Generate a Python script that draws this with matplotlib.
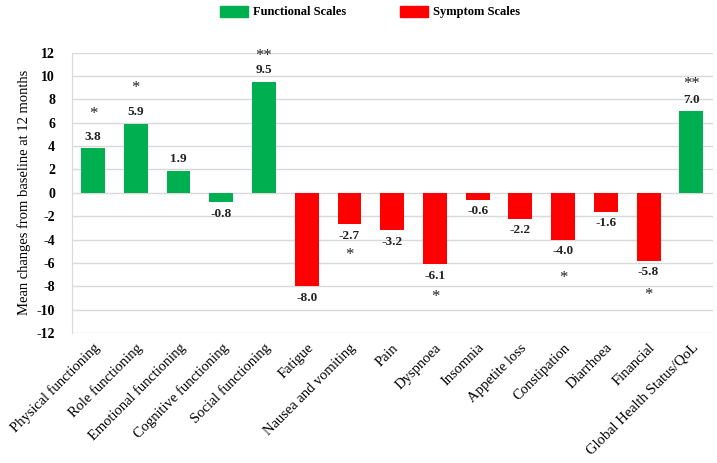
import matplotlib.pyplot as plt
from matplotlib.patches import Patch

categories = [
    "Physical functioning", "Role functioning", "Emotional functioning",
    "Cognitive functioning", "Social functioning", "Fatigue",
    "Nausea and vomiting", "Pain", "Dyspnoea", "Insomnia", "Appetite loss",
    "Constipation", "Diarrhoea", "Financial", "Global Health Status/QoL",
]
values = [3.8, 5.9, 1.9, -0.8, 9.5, -8.0, -2.7, -3.2, -6.1, -0.6, -2.2, -4.0, -1.6, -5.8, 7.0]
is_functional = [True, True, True, True, True, False, False, False, False,
                 False, False, False, False, False, True]
stars = ["*", "*", "", "", "**", "", "*", "", "*", "", "", "*", "", "*", "**"]

GREEN = "#00b050"
RED = "#ff0000"
GRID = "#d9d9d9"
SERIF = ["Liberation Serif", "DejaVu Serif"]

plt.rcParams["font.family"] = SERIF

fig = plt.figure(figsize=(7.17, 4.63), dpi=100)
ax = fig.add_axes([0.100, 0.281, 0.894, 0.605])

x = list(range(len(categories)))
colors = [GREEN if f else RED for f in is_functional]
ax.bar(x, values, width=0.56, color=colors, zorder=3)

ax.set_xlim(-0.5, len(categories) - 0.5)
ax.set_ylim(-12, 12)
ax.set_yticks(range(-12, 13, 2))
ax.set_yticklabels([str(v) for v in range(-12, 13, 2)], fontweight="bold", fontsize=10)
ax.yaxis.grid(True, color=GRID, linewidth=1, zorder=0)
ax.tick_params(axis="both", length=0)
ax.tick_params(axis="y", pad=12)
for side in ["top", "right", "bottom"]:
    ax.spines[side].set_visible(False)
ax.spines["left"].set_color(GRID)

ax.set_xticks(x)
ax.set_xticklabels(categories, rotation=45, ha="right", rotation_mode="anchor", fontsize=10.5)
ax.tick_params(axis="x", pad=6)
ax.set_ylabel("Mean changes from baseline at 12 months", fontsize=10.5)

# value labels and significance stars (extra gap between label and star, in points)
star_gap = {0: 2, 1: 3, 4: -4, 6: -1, 8: 1, 11: 5, 13: 2, 14: -3}
for i, (v, s) in enumerate(zip(values, stars)):
    sign = 1 if v >= 0 else -1
    va = "bottom" if v >= 0 else "top"
    ax.annotate(f"{v:.1f}", (i, v), xytext=(0, 4 * sign), textcoords="offset points",
                ha="center", va=va, fontsize=9.5, fontweight="bold", color="#222222")
    if s:
        ax.annotate(s, (i, v), xytext=(0, sign * (17 + star_gap[i])), textcoords="offset points",
                    ha="center", va=va, fontsize=12, color="#222222")

handles = [Patch(color=GREEN, label="Functional Scales"), Patch(color=RED, label="Symptom Scales")]
fig.legend(handles=handles, loc="upper center", bbox_to_anchor=(0.516, 1.012), ncol=2,
           frameon=False, handlelength=2.24, handleheight=0.96, handletextpad=0.4,
           columnspacing=4.3, prop={"family": SERIF, "weight": "bold", "size": 9})

fig.savefig("out.png", dpi=100)
